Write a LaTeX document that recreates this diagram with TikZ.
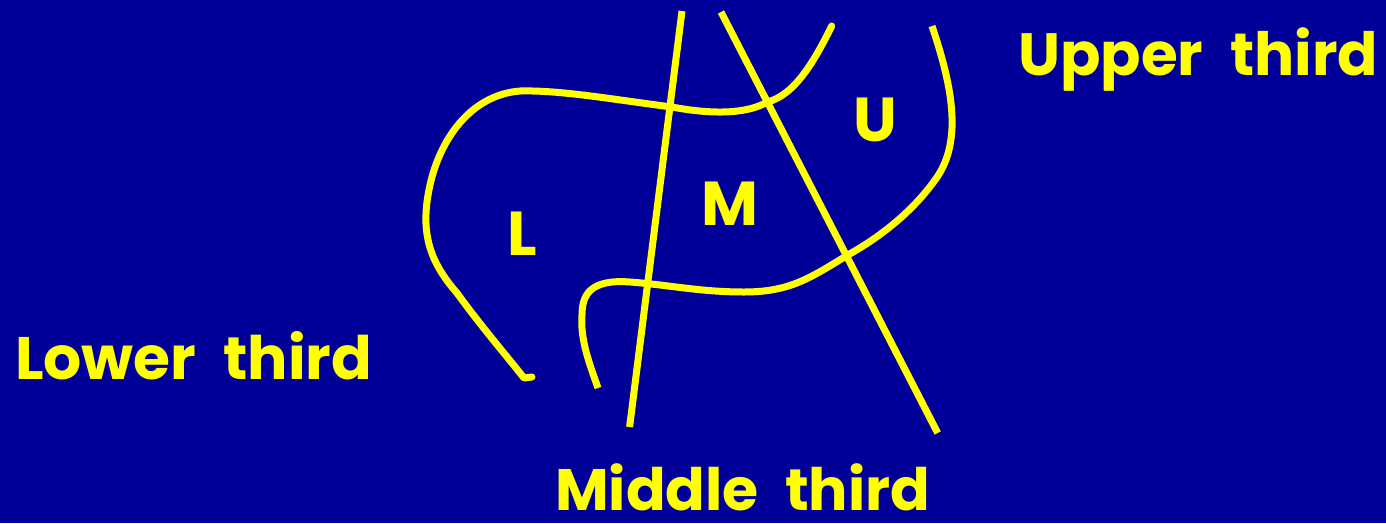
\documentclass[tikz,border=0pt]{standalone}
\usepackage{fontspec}
\setmainfont{Poppins}
\definecolor{bgblue}{RGB}{0,0,153}
\definecolor{yel}{RGB}{255,255,0}
\begin{document}
\begin{tikzpicture}[x=1pt,y=-1pt,
  stroke/.style={draw=yel,line width=7pt,line cap=round,line join=round},
  big/.style={text=yel,font=\bfseries\fontsize{60}{60}\selectfont,inner sep=0pt},
  region/.style={text=yel,font=\bfseries\fontsize{62}{62}\selectfont,inner sep=0pt}]
\fill[bgblue] (0,0) rectangle (1386,523);
\useasboundingbox (0,0) rectangle (1386,523);
% straight lines
\draw[stroke,line cap=butt] (682,11) -- (629.6,427);
\draw[stroke,line cap=butt] (721,12) -- (937.7,433);
% upper curve
\draw[stroke] (831.7,26) .. controls (815,60) and (795,95) .. (767.4,102)
  .. controls (750,112) and (720,116) .. (671.7,107)
  .. controls (610,99) and (560,90) .. (520,91)
  .. controls (470,95) and (440,140) .. (430,185)
  .. controls (420,230) and (428,260) .. (457,293)
  .. controls (480,325) and (510,360) .. (524,378) -- (532,377);
% lower curve
\draw[stroke,line cap=butt] (932,26) .. controls (950,80) and (965,140) .. (935,180)
  .. controls (910,215) and (875,240) .. (847.8,255)
  .. controls (810,278) and (790,292) .. (744,292)
  .. controls (700,292) and (670,285) .. (630,282)
  .. controls (590,279) and (582,295) .. (582,315)
  .. controls (580,340) and (590,365) .. (598,388);
% labels
\node[region] (L) at (522,234) {L};
\node[region] (M) at (730,204) {M};
\node[region] (U) at (875,120) {U};
\node[big,anchor=base west] (upper) at (1018,75) {\resizebox{360pt}{!}{Upper\hspace{0.45em}third}};
\node[big,anchor=base west] (lower) at (15,379) {\resizebox{357pt}{!}{Lower\hspace{0.45em}third}};
\node[big,anchor=base west] (middle) at (555,510) {\resizebox{375pt}{!}{Middle\hspace{0.45em}third}};
\end{tikzpicture}
\end{document}
